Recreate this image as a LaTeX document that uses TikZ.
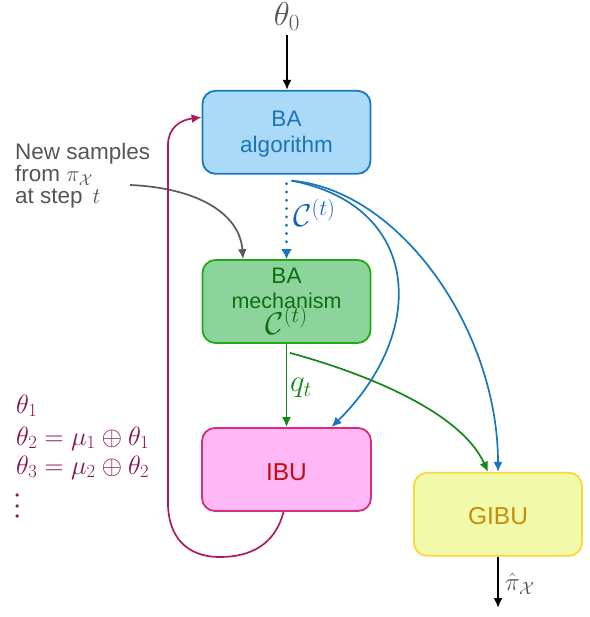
\RequirePackage{fix-cm}
\documentclass[tikz,border=0pt]{standalone}
\usepackage{fontspec}
\setmainfont{Liberation Sans}
\usetikzlibrary{arrows.meta}
\definecolor{bafill}{HTML}{AADAF8}
\definecolor{baedge}{HTML}{1978BE}
\definecolor{batext}{HTML}{1A74B8}
\definecolor{blueline}{HTML}{1777BD}
\definecolor{blabel}{HTML}{1562B8}
\definecolor{grfill}{HTML}{8CD49B}
\definecolor{gredge}{HTML}{1EAA14}
\definecolor{grtext}{HTML}{0F6E0F}
\definecolor{grline}{HTML}{148714}
\definecolor{ibufill}{HTML}{FFB8F5}
\definecolor{ibuedge}{HTML}{D72D78}
\definecolor{ibutext}{HTML}{BE0F0F}
\definecolor{gifill}{HTML}{F0FAA8}
\definecolor{giedge}{HTML}{FAD73C}
\definecolor{gitext}{HTML}{C88C0A}
\definecolor{magline}{HTML}{AF195F}
\definecolor{magtext}{HTML}{821450}
\definecolor{graytext}{HTML}{555555}
\definecolor{grayline}{HTML}{5A5A5A}
\begin{document}
\begin{tikzpicture}[x=1pt,y=-1pt,
  box/.style={rounded corners=13pt, minimum width=168pt, minimum height=83pt,
    inner sep=0pt, line width=1.8pt},
  boxtxt/.style={inner sep=0pt, anchor=base, font=\fontsize{22.5}{26}\selectfont},
  arr/.style={line width=1.7pt, -{Latex[length=10pt,width=9pt]}},
  dotarr/.style={line width=3.2pt, dash pattern=on 0pt off 8.3pt, line cap=round,
    -{Latex[length=10pt,width=11pt]}},
  lbl/.style={inner sep=0pt},
  graytxt/.style={lbl, anchor=base west, text=graytext, font=\fontsize{22.5}{22}\selectfont},
  thtxt/.style={lbl, anchor=base west, text=magtext, font=\fontsize{26.5}{26}\selectfont}]
\useasboundingbox (0,0) rectangle (589,617);

% boxes
\node[box, fill=bafill, draw=baedge] (ba) at (286.5,132.3) {};
\node[box, fill=grfill, draw=gredge] (gr) at (286.5,301.5) {};
\node[box, fill=ibufill, draw=ibuedge, minimum width=169pt] (ibu) at (286.5,469.5) {};
\node[box, fill=gifill, draw=giedge] (gibu) at (498,514.3) {};

% box texts
\node[boxtxt, text=batext] (ba1) at (286.5,127) {BA};
\node[boxtxt, text=batext] (ba2) at (286.5,153) {algorithm};
\node[boxtxt, text=grtext] (gr1) at (286.5,283) {BA};
\node[boxtxt, text=grtext, font=\fontsize{21.5}{26}\selectfont] (gr2) at (286.5,308) {mechanism};
\node[boxtxt, text=grtext, font=\fontsize{31.5}{32}\selectfont] (gr3) at (286.5,334) {$\mathcal{C}^{(t)}$};
\node[boxtxt, text=ibutext, font=\fontsize{24.5}{28}\selectfont] (ibut) at (286.5,480) {IBU};
\node[boxtxt, text=gitext, font=\fontsize{24.5}{28}\selectfont] (gibut) at (498,524) {GIBU};

% theta_0 input
\node[anchor=base, text=graytext, font=\fontsize{33}{36}\selectfont, inner sep=0pt] (t0) at (287,26) {$\theta_0$};
\coordinate (t0s) at (287,35);
\draw[arr, black] (t0s) -- (t0s |- ba.north);

% dotted C^(t)
\draw[dotarr, blueline] ([yshift=-9pt]ba.south) -- (gr.north);
\node[lbl, anchor=west, text=blabel, font=\fontsize{31.5}{32}\selectfont] (clab) at (293,213) {$\mathcal{C}^{(t)}$};

% blue curves
\coordinate (bs) at ([xshift=5pt,yshift=-6pt]ba.south);
\draw[arr, blueline] (bs) .. controls (420,205) and (430,330) .. ([xshift=45pt]ibu.north);
\draw[arr, blueline] (bs) .. controls (400,190) and (498,330) .. (gibu.north);

% green arrows
\draw[arr, grline] (gr.south) -- (ibu.north);
\node[lbl, anchor=west, text=grline, font=\fontsize{31}{32}\selectfont] (qt) at (290,388) {$q_t$};
\coordinate (gs) at ([xshift=3.5pt,yshift=-9pt]gr.south);
\draw[arr, grline] (gs) .. controls (360,372) and (460,410) .. ([xshift=-10pt]gibu.north);

% new samples
\node[graytxt] (ns1) at (15,160) {New samples};
\node[graytxt] (ns2) at (15,182) {from $\pi_{\mathcal{X}}$};
\node[graytxt] (ns3) at (15,204) {at step\hspace{10pt}$t$};
\coordinate (gstart) at (130,185);
\draw[arr, grayline] (gstart) .. controls (200,188) and (240,215) .. ([xshift=-43.5pt]gr.north);

% loop back
\draw[arr, magline] ([xshift=-3pt]ibu.south) .. controls (275,545) and (250,557) .. (220,557)
  .. controls (185,557) and (168,535) .. (168,503) -- (168,145)
  .. controls (168,128) and (180,120) .. ([yshift=15pt]ba.west);

% theta list
\node[thtxt] (th1) at (16,413) {$\theta_1$};
\node[thtxt] (th2) at (16,445) {$\theta_2=\mu_1\oplus\theta_1$};
\node[thtxt] (th3) at (16,474) {$\theta_3=\mu_2\oplus\theta_2$};
\node[lbl, anchor=north west, text=magtext, font=\fontsize{8}{9}\selectfont] (vd) at (15,494)
  {$\vbox{\baselineskip=10.5pt\lineskiplimit=0pt\hbox{$\bullet$}\hbox{$\bullet$}\hbox{$\bullet$}}$};

% output
\coordinate (out) at (498,608);
\draw[arr, black] (gibu.south) -- (out);
\node[lbl, anchor=west, text=graytext, font=\fontsize{25}{26}\selectfont] (pihat) at (505,584) {$\hat{\pi}_{\mathcal{X}}$};
\end{tikzpicture}
\end{document}
